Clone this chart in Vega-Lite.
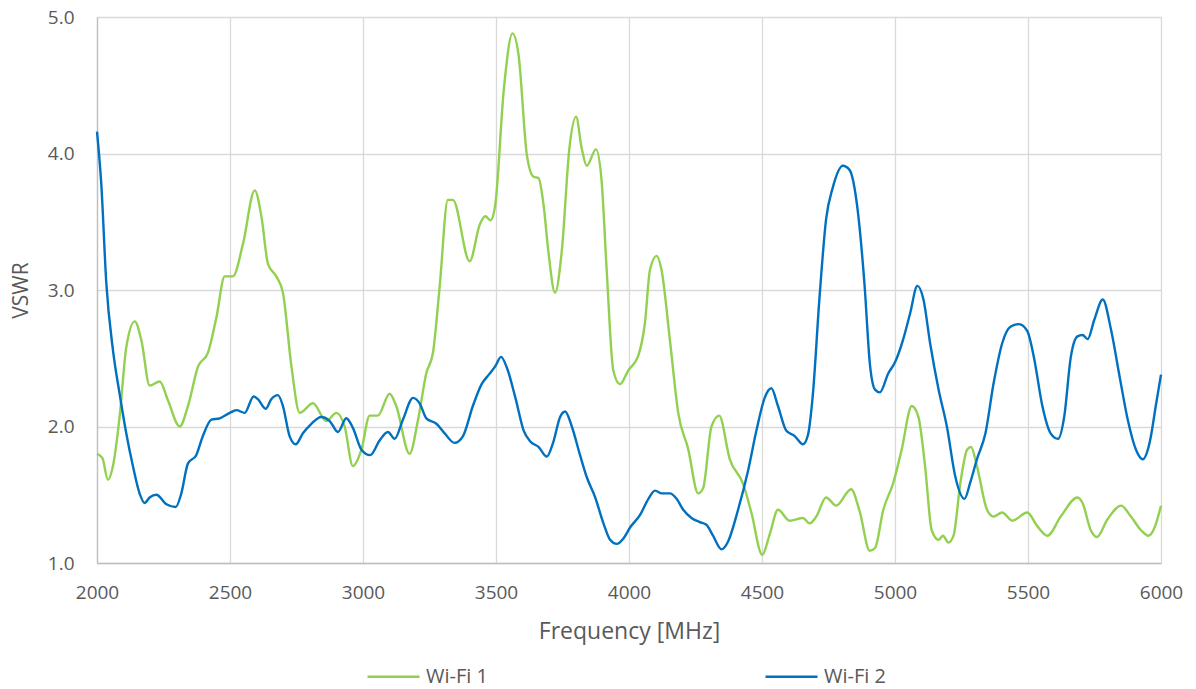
{
  "$schema": "https://vega.github.io/schema/vega-lite/v6.json",
  "width": 1064,
  "height": 546,
  "autosize": "none",
  "padding": {"left": 97, "top": 17, "right": 35, "bottom": 126},
  "background": "white",
  "config": {
    "font": "Open Sans",
    "view": {"stroke": null},
    "axis": {
      "labelColor": "#595959",
      "titleColor": "#595959",
      "labelFont": "Open Sans",
      "titleFont": "Open Sans",
      "titleFontWeight": "normal",
      "gridColor": "#d9d9d9",
      "gridWidth": 1.3,
      "domainColor": "#bfbfbf",
      "domainWidth": 1.3,
      "ticks": false,
      "labelFlush": false
    }
  },
  "data": {
    "values": [
      {"f":2000,"v":1.80,"s":"Wi-Fi 1"},{"f":2020,"v":1.77,"s":"Wi-Fi 1"},{"f":2041,"v":1.61,"s":"Wi-Fi 1"},{"f":2060,"v":1.71,"s":"Wi-Fi 1"},{"f":2085,"v":2.07,"s":"Wi-Fi 1"},{"f":2110,"v":2.58,"s":"Wi-Fi 1"},{"f":2142,"v":2.77,"s":"Wi-Fi 1"},{"f":2167,"v":2.63,"s":"Wi-Fi 1"},{"f":2198,"v":2.30,"s":"Wi-Fi 1"},{"f":2236,"v":2.33,"s":"Wi-Fi 1"},{"f":2267,"v":2.19,"s":"Wi-Fi 1"},{"f":2311,"v":2.00,"s":"Wi-Fi 1"},{"f":2342,"v":2.15,"s":"Wi-Fi 1"},{"f":2380,"v":2.44,"s":"Wi-Fi 1"},{"f":2417,"v":2.54,"s":"Wi-Fi 1"},{"f":2449,"v":2.80,"s":"Wi-Fi 1"},{"f":2480,"v":3.10,"s":"Wi-Fi 1"},{"f":2511,"v":3.10,"s":"Wi-Fi 1"},{"f":2549,"v":3.34,"s":"Wi-Fi 1"},{"f":2593,"v":3.73,"s":"Wi-Fi 1"},{"f":2618,"v":3.54,"s":"Wi-Fi 1"},{"f":2643,"v":3.19,"s":"Wi-Fi 1"},{"f":2674,"v":3.10,"s":"Wi-Fi 1"},{"f":2699,"v":2.98,"s":"Wi-Fi 1"},{"f":2731,"v":2.44,"s":"Wi-Fi 1"},{"f":2762,"v":2.10,"s":"Wi-Fi 1"},{"f":2812,"v":2.17,"s":"Wi-Fi 1"},{"f":2862,"v":2.04,"s":"Wi-Fi 1"},{"f":2900,"v":2.10,"s":"Wi-Fi 1"},{"f":2931,"v":2.00,"s":"Wi-Fi 1"},{"f":2962,"v":1.71,"s":"Wi-Fi 1"},{"f":2994,"v":1.83,"s":"Wi-Fi 1"},{"f":3025,"v":2.08,"s":"Wi-Fi 1"},{"f":3056,"v":2.08,"s":"Wi-Fi 1"},{"f":3100,"v":2.24,"s":"Wi-Fi 1"},{"f":3125,"v":2.15,"s":"Wi-Fi 1"},{"f":3175,"v":1.80,"s":"Wi-Fi 1"},{"f":3207,"v":2.05,"s":"Wi-Fi 1"},{"f":3238,"v":2.39,"s":"Wi-Fi 1"},{"f":3263,"v":2.54,"s":"Wi-Fi 1"},{"f":3288,"v":3.02,"s":"Wi-Fi 1"},{"f":3319,"v":3.66,"s":"Wi-Fi 1"},{"f":3338,"v":3.66,"s":"Wi-Fi 1"},{"f":3401,"v":3.21,"s":"Wi-Fi 1"},{"f":3439,"v":3.48,"s":"Wi-Fi 1"},{"f":3460,"v":3.54,"s":"Wi-Fi 1"},{"f":3479,"v":3.51,"s":"Wi-Fi 1"},{"f":3497,"v":3.62,"s":"Wi-Fi 1"},{"f":3529,"v":4.46,"s":"Wi-Fi 1"},{"f":3562,"v":4.88,"s":"Wi-Fi 1"},{"f":3585,"v":4.72,"s":"Wi-Fi 1"},{"f":3616,"v":3.99,"s":"Wi-Fi 1"},{"f":3641,"v":3.83,"s":"Wi-Fi 1"},{"f":3660,"v":3.82,"s":"Wi-Fi 1"},{"f":3679,"v":3.62,"s":"Wi-Fi 1"},{"f":3697,"v":3.28,"s":"Wi-Fi 1"},{"f":3722,"v":2.98,"s":"Wi-Fi 1"},{"f":3747,"v":3.28,"s":"Wi-Fi 1"},{"f":3776,"v":4.04,"s":"Wi-Fi 1"},{"f":3801,"v":4.27,"s":"Wi-Fi 1"},{"f":3822,"v":4.04,"s":"Wi-Fi 1"},{"f":3841,"v":3.91,"s":"Wi-Fi 1"},{"f":3876,"v":4.03,"s":"Wi-Fi 1"},{"f":3897,"v":3.80,"s":"Wi-Fi 1"},{"f":3916,"v":3.15,"s":"Wi-Fi 1"},{"f":3941,"v":2.41,"s":"Wi-Fi 1"},{"f":3966,"v":2.31,"s":"Wi-Fi 1"},{"f":3997,"v":2.41,"s":"Wi-Fi 1"},{"f":4035,"v":2.52,"s":"Wi-Fi 1"},{"f":4060,"v":2.76,"s":"Wi-Fi 1"},{"f":4079,"v":3.15,"s":"Wi-Fi 1"},{"f":4104,"v":3.25,"s":"Wi-Fi 1"},{"f":4122,"v":3.15,"s":"Wi-Fi 1"},{"f":4154,"v":2.63,"s":"Wi-Fi 1"},{"f":4185,"v":2.10,"s":"Wi-Fi 1"},{"f":4222,"v":1.84,"s":"Wi-Fi 1"},{"f":4260,"v":1.51,"s":"Wi-Fi 1"},{"f":4279,"v":1.55,"s":"Wi-Fi 1"},{"f":4310,"v":2.00,"s":"Wi-Fi 1"},{"f":4339,"v":2.08,"s":"Wi-Fi 1"},{"f":4379,"v":1.76,"s":"Wi-Fi 1"},{"f":4429,"v":1.58,"s":"Wi-Fi 1"},{"f":4460,"v":1.37,"s":"Wi-Fi 1"},{"f":4501,"v":1.06,"s":"Wi-Fi 1"},{"f":4529,"v":1.21,"s":"Wi-Fi 1"},{"f":4560,"v":1.39,"s":"Wi-Fi 1"},{"f":4604,"v":1.31,"s":"Wi-Fi 1"},{"f":4654,"v":1.33,"s":"Wi-Fi 1"},{"f":4679,"v":1.29,"s":"Wi-Fi 1"},{"f":4704,"v":1.34,"s":"Wi-Fi 1"},{"f":4741,"v":1.48,"s":"Wi-Fi 1"},{"f":4779,"v":1.42,"s":"Wi-Fi 1"},{"f":4835,"v":1.54,"s":"Wi-Fi 1"},{"f":4867,"v":1.38,"s":"Wi-Fi 1"},{"f":4905,"v":1.09,"s":"Wi-Fi 1"},{"f":4925,"v":1.11,"s":"Wi-Fi 1"},{"f":4956,"v":1.39,"s":"Wi-Fi 1"},{"f":4994,"v":1.59,"s":"Wi-Fi 1"},{"f":5025,"v":1.83,"s":"Wi-Fi 1"},{"f":5063,"v":2.15,"s":"Wi-Fi 1"},{"f":5088,"v":2.07,"s":"Wi-Fi 1"},{"f":5113,"v":1.71,"s":"Wi-Fi 1"},{"f":5138,"v":1.24,"s":"Wi-Fi 1"},{"f":5164,"v":1.17,"s":"Wi-Fi 1"},{"f":5180,"v":1.20,"s":"Wi-Fi 1"},{"f":5201,"v":1.15,"s":"Wi-Fi 1"},{"f":5220,"v":1.20,"s":"Wi-Fi 1"},{"f":5246,"v":1.59,"s":"Wi-Fi 1"},{"f":5271,"v":1.83,"s":"Wi-Fi 1"},{"f":5286,"v":1.85,"s":"Wi-Fi 1"},{"f":5308,"v":1.71,"s":"Wi-Fi 1"},{"f":5346,"v":1.39,"s":"Wi-Fi 1"},{"f":5371,"v":1.34,"s":"Wi-Fi 1"},{"f":5403,"v":1.37,"s":"Wi-Fi 1"},{"f":5441,"v":1.31,"s":"Wi-Fi 1"},{"f":5497,"v":1.37,"s":"Wi-Fi 1"},{"f":5535,"v":1.27,"s":"Wi-Fi 1"},{"f":5573,"v":1.20,"s":"Wi-Fi 1"},{"f":5623,"v":1.34,"s":"Wi-Fi 1"},{"f":5686,"v":1.48,"s":"Wi-Fi 1"},{"f":5705,"v":1.44,"s":"Wi-Fi 1"},{"f":5736,"v":1.24,"s":"Wi-Fi 1"},{"f":5759,"v":1.19,"s":"Wi-Fi 1"},{"f":5799,"v":1.32,"s":"Wi-Fi 1"},{"f":5850,"v":1.42,"s":"Wi-Fi 1"},{"f":5887,"v":1.34,"s":"Wi-Fi 1"},{"f":5925,"v":1.24,"s":"Wi-Fi 1"},{"f":5953,"v":1.20,"s":"Wi-Fi 1"},{"f":5976,"v":1.26,"s":"Wi-Fi 1"},{"f":6000,"v":1.42,"s":"Wi-Fi 1"},
      {"f":2000,"v":4.16,"s":"Wi-Fi 2"},{"f":2016,"v":3.78,"s":"Wi-Fi 2"},{"f":2035,"v":3.05,"s":"Wi-Fi 2"},{"f":2060,"v":2.56,"s":"Wi-Fi 2"},{"f":2085,"v":2.24,"s":"Wi-Fi 2"},{"f":2110,"v":1.95,"s":"Wi-Fi 2"},{"f":2135,"v":1.71,"s":"Wi-Fi 2"},{"f":2160,"v":1.51,"s":"Wi-Fi 2"},{"f":2179,"v":1.44,"s":"Wi-Fi 2"},{"f":2198,"v":1.48,"s":"Wi-Fi 2"},{"f":2223,"v":1.50,"s":"Wi-Fi 2"},{"f":2261,"v":1.43,"s":"Wi-Fi 2"},{"f":2296,"v":1.41,"s":"Wi-Fi 2"},{"f":2317,"v":1.51,"s":"Wi-Fi 2"},{"f":2342,"v":1.73,"s":"Wi-Fi 2"},{"f":2373,"v":1.79,"s":"Wi-Fi 2"},{"f":2398,"v":1.93,"s":"Wi-Fi 2"},{"f":2430,"v":2.05,"s":"Wi-Fi 2"},{"f":2461,"v":2.06,"s":"Wi-Fi 2"},{"f":2499,"v":2.10,"s":"Wi-Fi 2"},{"f":2524,"v":2.12,"s":"Wi-Fi 2"},{"f":2555,"v":2.10,"s":"Wi-Fi 2"},{"f":2589,"v":2.22,"s":"Wi-Fi 2"},{"f":2605,"v":2.20,"s":"Wi-Fi 2"},{"f":2634,"v":2.13,"s":"Wi-Fi 2"},{"f":2655,"v":2.20,"s":"Wi-Fi 2"},{"f":2680,"v":2.23,"s":"Wi-Fi 2"},{"f":2699,"v":2.15,"s":"Wi-Fi 2"},{"f":2724,"v":1.93,"s":"Wi-Fi 2"},{"f":2747,"v":1.87,"s":"Wi-Fi 2"},{"f":2774,"v":1.95,"s":"Wi-Fi 2"},{"f":2806,"v":2.02,"s":"Wi-Fi 2"},{"f":2843,"v":2.07,"s":"Wi-Fi 2"},{"f":2875,"v":2.04,"s":"Wi-Fi 2"},{"f":2906,"v":1.96,"s":"Wi-Fi 2"},{"f":2937,"v":2.06,"s":"Wi-Fi 2"},{"f":2962,"v":1.99,"s":"Wi-Fi 2"},{"f":2994,"v":1.83,"s":"Wi-Fi 2"},{"f":3027,"v":1.79,"s":"Wi-Fi 2"},{"f":3063,"v":1.90,"s":"Wi-Fi 2"},{"f":3094,"v":1.96,"s":"Wi-Fi 2"},{"f":3119,"v":1.91,"s":"Wi-Fi 2"},{"f":3150,"v":2.05,"s":"Wi-Fi 2"},{"f":3188,"v":2.21,"s":"Wi-Fi 2"},{"f":3213,"v":2.17,"s":"Wi-Fi 2"},{"f":3238,"v":2.06,"s":"Wi-Fi 2"},{"f":3276,"v":2.02,"s":"Wi-Fi 2"},{"f":3307,"v":1.95,"s":"Wi-Fi 2"},{"f":3344,"v":1.88,"s":"Wi-Fi 2"},{"f":3376,"v":1.93,"s":"Wi-Fi 2"},{"f":3413,"v":2.15,"s":"Wi-Fi 2"},{"f":3446,"v":2.31,"s":"Wi-Fi 2"},{"f":3473,"v":2.38,"s":"Wi-Fi 2"},{"f":3497,"v":2.44,"s":"Wi-Fi 2"},{"f":3519,"v":2.51,"s":"Wi-Fi 2"},{"f":3541,"v":2.43,"s":"Wi-Fi 2"},{"f":3573,"v":2.21,"s":"Wi-Fi 2"},{"f":3604,"v":1.97,"s":"Wi-Fi 2"},{"f":3629,"v":1.89,"s":"Wi-Fi 2"},{"f":3660,"v":1.85,"s":"Wi-Fi 2"},{"f":3691,"v":1.78,"s":"Wi-Fi 2"},{"f":3716,"v":1.89,"s":"Wi-Fi 2"},{"f":3741,"v":2.07,"s":"Wi-Fi 2"},{"f":3760,"v":2.11,"s":"Wi-Fi 2"},{"f":3785,"v":2.00,"s":"Wi-Fi 2"},{"f":3816,"v":1.79,"s":"Wi-Fi 2"},{"f":3841,"v":1.63,"s":"Wi-Fi 2"},{"f":3873,"v":1.48,"s":"Wi-Fi 2"},{"f":3904,"v":1.29,"s":"Wi-Fi 2"},{"f":3929,"v":1.17,"s":"Wi-Fi 2"},{"f":3954,"v":1.14,"s":"Wi-Fi 2"},{"f":3979,"v":1.18,"s":"Wi-Fi 2"},{"f":4004,"v":1.26,"s":"Wi-Fi 2"},{"f":4041,"v":1.35,"s":"Wi-Fi 2"},{"f":4073,"v":1.47,"s":"Wi-Fi 2"},{"f":4098,"v":1.53,"s":"Wi-Fi 2"},{"f":4123,"v":1.51,"s":"Wi-Fi 2"},{"f":4154,"v":1.51,"s":"Wi-Fi 2"},{"f":4179,"v":1.47,"s":"Wi-Fi 2"},{"f":4204,"v":1.39,"s":"Wi-Fi 2"},{"f":4235,"v":1.33,"s":"Wi-Fi 2"},{"f":4266,"v":1.30,"s":"Wi-Fi 2"},{"f":4291,"v":1.28,"s":"Wi-Fi 2"},{"f":4316,"v":1.20,"s":"Wi-Fi 2"},{"f":4348,"v":1.10,"s":"Wi-Fi 2"},{"f":4373,"v":1.16,"s":"Wi-Fi 2"},{"f":4410,"v":1.39,"s":"Wi-Fi 2"},{"f":4448,"v":1.68,"s":"Wi-Fi 2"},{"f":4479,"v":1.97,"s":"Wi-Fi 2"},{"f":4510,"v":2.21,"s":"Wi-Fi 2"},{"f":4535,"v":2.28,"s":"Wi-Fi 2"},{"f":4560,"v":2.15,"s":"Wi-Fi 2"},{"f":4591,"v":1.97,"s":"Wi-Fi 2"},{"f":4623,"v":1.93,"s":"Wi-Fi 2"},{"f":4654,"v":1.87,"s":"Wi-Fi 2"},{"f":4673,"v":1.94,"s":"Wi-Fi 2"},{"f":4691,"v":2.23,"s":"Wi-Fi 2"},{"f":4716,"v":2.94,"s":"Wi-Fi 2"},{"f":4741,"v":3.52,"s":"Wi-Fi 2"},{"f":4766,"v":3.75,"s":"Wi-Fi 2"},{"f":4804,"v":3.91,"s":"Wi-Fi 2"},{"f":4829,"v":3.88,"s":"Wi-Fi 2"},{"f":4860,"v":3.58,"s":"Wi-Fi 2"},{"f":4885,"v":3.05,"s":"Wi-Fi 2"},{"f":4906,"v":2.45,"s":"Wi-Fi 2"},{"f":4925,"v":2.27,"s":"Wi-Fi 2"},{"f":4943,"v":2.25,"s":"Wi-Fi 2"},{"f":4975,"v":2.39,"s":"Wi-Fi 2"},{"f":5000,"v":2.47,"s":"Wi-Fi 2"},{"f":5031,"v":2.64,"s":"Wi-Fi 2"},{"f":5057,"v":2.83,"s":"Wi-Fi 2"},{"f":5084,"v":3.03,"s":"Wi-Fi 2"},{"f":5107,"v":2.93,"s":"Wi-Fi 2"},{"f":5132,"v":2.61,"s":"Wi-Fi 2"},{"f":5164,"v":2.27,"s":"Wi-Fi 2"},{"f":5195,"v":2.00,"s":"Wi-Fi 2"},{"f":5227,"v":1.63,"s":"Wi-Fi 2"},{"f":5261,"v":1.47,"s":"Wi-Fi 2"},{"f":5283,"v":1.59,"s":"Wi-Fi 2"},{"f":5308,"v":1.76,"s":"Wi-Fi 2"},{"f":5340,"v":1.95,"s":"Wi-Fi 2"},{"f":5371,"v":2.32,"s":"Wi-Fi 2"},{"f":5403,"v":2.61,"s":"Wi-Fi 2"},{"f":5434,"v":2.73,"s":"Wi-Fi 2"},{"f":5466,"v":2.75,"s":"Wi-Fi 2"},{"f":5497,"v":2.70,"s":"Wi-Fi 2"},{"f":5522,"v":2.51,"s":"Wi-Fi 2"},{"f":5554,"v":2.15,"s":"Wi-Fi 2"},{"f":5585,"v":1.95,"s":"Wi-Fi 2"},{"f":5613,"v":1.91,"s":"Wi-Fi 2"},{"f":5636,"v":2.07,"s":"Wi-Fi 2"},{"f":5661,"v":2.51,"s":"Wi-Fi 2"},{"f":5686,"v":2.66,"s":"Wi-Fi 2"},{"f":5705,"v":2.67,"s":"Wi-Fi 2"},{"f":5724,"v":2.64,"s":"Wi-Fi 2"},{"f":5749,"v":2.78,"s":"Wi-Fi 2"},{"f":5781,"v":2.93,"s":"Wi-Fi 2"},{"f":5812,"v":2.71,"s":"Wi-Fi 2"},{"f":5844,"v":2.37,"s":"Wi-Fi 2"},{"f":5875,"v":2.05,"s":"Wi-Fi 2"},{"f":5906,"v":1.83,"s":"Wi-Fi 2"},{"f":5932,"v":1.76,"s":"Wi-Fi 2"},{"f":5957,"v":1.88,"s":"Wi-Fi 2"},{"f":5982,"v":2.17,"s":"Wi-Fi 2"},{"f":6000,"v":2.38,"s":"Wi-Fi 2"}
    ]
  },
  "mark": {"type": "line", "interpolate": "monotone", "strokeWidth": 2.4},
  "encoding": {
    "x": {
      "field": "f", "type": "quantitative",
      "scale": {"domain": [2000, 6000], "nice": false},
      "axis": {"values": [2000,2500,3000,3500,4000,4500,5000,5500,6000], "format": "d", "title": "Frequency [MHz]", "labelFontSize": 19, "titleFontSize": 23, "labelPadding": 20, "titlePadding": 18}
    },
    "y": {
      "field": "v", "type": "quantitative",
      "scale": {"domain": [1, 5], "nice": false},
      "axis": {"values": [1,2,3,4,5], "format": ".1f", "title": "VSWR", "labelFontSize": 19, "titleFontSize": 21, "labelPadding": 23, "titlePadding": 16}
    },
    "color": {
      "field": "s", "type": "nominal",
      "scale": {"domain": ["Wi-Fi 1", "Wi-Fi 2"], "range": ["#92d050", "#0070c0"]},
      "legend": {
        "title": null, "orient": "none", "direction": "horizontal",
        "legendX": 269, "legendY": 632,
        "symbolType": "stroke", "symbolSize": 2700, "symbolStrokeWidth": 2.5,
        "labelFontSize": 20, "labelColor": "#595959", "labelFont": "Open Sans",
        "labelOffset": 5, "columnPadding": 272
      }
    }
  }
}
